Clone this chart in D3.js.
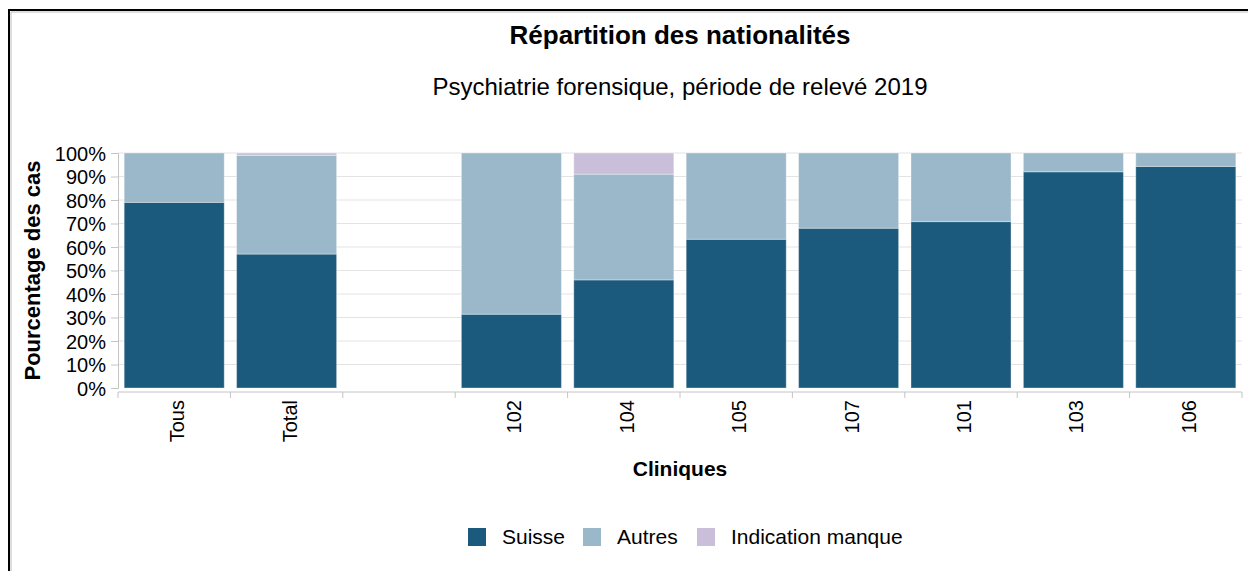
<!DOCTYPE html>
<html>
<head>
<meta charset="utf-8">
<script src="https://cdn.jsdelivr.net/npm/d3@7"></script>
<style>
	body { margin: 0; background: #fff; }
	svg { display: block; font-family: "Liberation Sans", Arial, sans-serif; }
</style>
</head>
<body>
<svg id="chart" width="1248" height="571"></svg>
<script>
// clinics (the empty slot is a gap in the original chart)
var categories = ["Tous", "Total", "", "102", "104", "105", "107", "101", "103", "106"];
var suisse  = [79, 57, 0, 31.4, 46, 63.3, 68, 70.8, 92, 94.3];
var autres  = [21, 42, 0, 68.6, 45, 36.7, 32, 29.2, 8, 5.7];
var manque  = [0, 1, 0, 0, 9, 0, 0, 0, 0, 0];
var seriesNames = ["Suisse", "Autres", "Indication manque"];
var seriesColors = ["#1b5a7d", "#9ab8c9", "#c9bfdb"];
var yTicks = [0, 10, 20, 30, 40, 50, 60, 70, 80, 90, 100];

(function(){

	var svg = d3.select("#chart");
	var left = 118, right = 1242, top = 153, bottom = 388;

	// frame, only top and left edges are visible
	svg.append("path")
		.attr("d", "M9,571 V10 H1248")
		.attr("fill", "none").attr("stroke", "#000").attr("stroke-width", 2);
	svg.append("path")
		.attr("d", "M11,571 V12 H1248")
		.attr("fill", "none").attr("stroke", "#bbb").attr("stroke-width", 1);

	var x = d3.scaleBand().domain(d3.range(categories.length)).range([left, right])
		.paddingInner(0.11).paddingOuter(0.055);
	var y = d3.scaleLinear().domain([0, 100]).range([bottom, top]);

	// grid
	svg.append("g").selectAll("line").data(yTicks.slice(1)).enter().append("line")
		.attr("x1", left).attr("x2", right)
		.attr("y1", function(d){ return y(d); }).attr("y2", function(d){ return y(d); })
		.attr("stroke", "#e3e3e3");

	// stacks
	var rows = categories.map(function(c, i){
		return { i: i, Suisse: suisse[i], Autres: autres[i], "Indication manque": manque[i] };
	});
	var stack = d3.stack().keys(seriesNames)(rows);

	svg.append("g").selectAll("g").data(stack).enter().append("g")
		.attr("fill", function(d, k){ return seriesColors[k]; })
		.selectAll("rect").data(function(d){ return d; }).enter()
		.filter(function(d){ return d[1] - d[0] > 0; })
		.append("rect")
			.attr("x", function(d){ return x(d.data.i); })
			.attr("width", x.bandwidth())
			.attr("y", function(d){ return y(d[1]); })
			.attr("height", function(d){ return y(d[0]) - y(d[1]); })
			.attr("stroke", "rgba(255,255,255,0.35)").attr("stroke-width", 1);

	// y axis
	var yAxis = svg.append("g").attr("transform", "translate(" + left + ",0)")
		.call(d3.axisLeft(y).tickValues(yTicks).tickSize(7).tickPadding(5)
			.tickFormat(function(d){ return d + "%"; }));
	yAxis.selectAll("text").style("font-size", "20px").attr("fill", "#000").attr("dy", "0.36em");
	yAxis.selectAll("line, path").attr("stroke", "#c4c4c4");

	// x axis: ticks on band boundaries
	var step = x.step();
	svg.append("line").attr("x1", left).attr("x2", right).attr("y1", bottom + 4).attr("y2", bottom + 4)
		.attr("stroke", "#c4c4c4");
	svg.append("g").selectAll("line").data(d3.range(categories.length + 1)).enter().append("line")
		.attr("x1", function(i){ return left + i * step; }).attr("x2", function(i){ return left + i * step; })
		.attr("y1", bottom + 4).attr("y2", bottom + 10)
		.attr("stroke", "#c4c4c4");
	svg.append("g").selectAll("text").data(categories).enter().append("text")
		.attr("transform", function(d, i){
			return "translate(" + (x(i) + x.bandwidth() / 2 + 10) + "," + (bottom + 12) + ") rotate(-90)";
		})
		.attr("text-anchor", "end")
		.style("font-size", "20px")
		.text(function(d){ return d; });

	// titles
	svg.append("text").attr("x", 680).attr("y", 44).attr("text-anchor", "middle")
		.style("font-size", "26px").style("font-weight", "bold").text("Répartition des nationalités");
	svg.append("text").attr("x", 680).attr("y", 95).attr("text-anchor", "middle")
		.style("font-size", "24px").text("Psychiatrie forensique, période de relevé 2019");
	svg.append("text").attr("x", 680).attr("y", 476).attr("text-anchor", "middle")
		.style("font-size", "21px").style("font-weight", "bold").text("Cliniques");
	svg.append("text").attr("transform", "translate(40," + ((top + bottom) / 2) + ") rotate(-90)")
		.attr("text-anchor", "middle")
		.style("font-size", "22px").style("font-weight", "bold").text("Pourcentage des cas");

	// legend
	var legendX = [468, 583, 697];
	var lg = svg.append("g").selectAll("g").data(seriesNames).enter().append("g")
		.attr("transform", function(d, k){ return "translate(" + legendX[k] + ",528)"; });
	lg.append("rect").attr("width", 18).attr("height", 18)
		.attr("fill", function(d, k){ return seriesColors[k]; });
	lg.append("text").attr("x", 34).attr("y", 16).style("font-size", "21px").text(function(d){ return d; });

})();
</script>
</body>
</html>
